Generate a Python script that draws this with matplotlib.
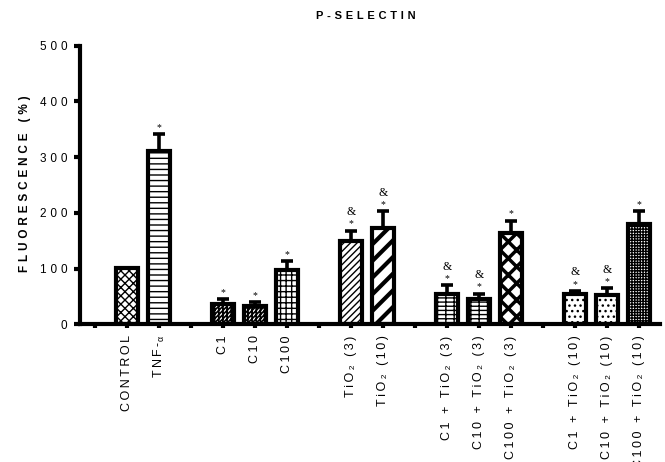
import matplotlib as mpl
import matplotlib.pyplot as plt
import numpy as np

plt.rcParams['font.family'] = ['Liberation Sans', 'DejaVu Sans']
plt.rcParams['mathtext.fontset'] = 'custom'
plt.rcParams['mathtext.rm'] = 'Liberation Sans'
plt.rcParams['mathtext.it'] = 'Liberation Sans'
plt.rcParams['mathtext.default'] = 'regular'

# P-selectin fluorescence per treatment (% of control)
categories = ["CONTROL", "TNF-α", "C1", "C10", "C100",
              "TiO₂ (3)", "TiO₂ (10)",
              "C1 + TiO₂ (3)", "C10 + TiO₂ (3)", "C100 + TiO₂ (3)",
              "C1 + TiO₂ (10)", "C10 + TiO₂ (10)", "C100 + TiO₂ (10)"]
values = [101, 311, 36, 33, 97, 150, 172, 55, 46, 164, 55, 52, 180]
errors = [0, 30, 9, 7, 16, 18, 31, 15, 9, 22, 5, 13, 23]
star_marks = [False, True, True, True, True, True, True, True, True, True, True, True, True]
amp_marks = [False, False, False, False, False, True, True, True, True, False, True, True, False]
group_sizes = [2, 3, 2, 3, 3]
y_ticks = [0, 100, 200, 300, 400, 500]

THIN = '\u2009'
THIRD = '\u2004'


def spaced(s, sep=THIN):
    return sep.join(s)


# bar slots: one empty slot before every group
positions = []
slot = 0
for n in group_sizes:
    slot += 1
    for _ in range(n):
        positions.append(slot)
        slot += 1
n_slots = slot
positions = np.array(positions)

hatches = ['xxxx', '---', '////////||||', '////////||||', '+++', '/////', '//',
           '----||', '----||', 'xx', '...', '...', '++++++']
hatch_lws = [1.0, 1.0, 1.2, 1.2, 1.0, 1.0, 3.0, 1.0, 1.0, 2.5, 1.0, 1.0, 1.0]

fig = plt.figure(figsize=(6.65, 4.62), dpi=100)
ax = fig.add_axes([80 / 665, 1 - 324.3 / 462, 580 / 665, (324.3 - 45.7) / 462])

for x, v, h, hl in zip(positions, values, hatches, hatch_lws):
    with mpl.rc_context({'hatch.linewidth': hl}):
        bars = ax.bar(x, v, width=0.69, facecolor='white', edgecolor='black',
                      linewidth=3, hatch=h, zorder=2)
    for p in bars:
        if hasattr(p, 'set_hatch_linewidth'):
            p.set_hatch_linewidth(hl)

err = np.array(errors, dtype=float)
mask = err > 0
ax.errorbar(positions[mask], np.array(values)[mask],
            yerr=[np.zeros(mask.sum()), err[mask]], fmt='none',
            ecolor='black', elinewidth=2.6, capsize=4, capthick=2.6, zorder=1)

for x, v, e, s, a in zip(positions, values, errors, star_marks, amp_marks):
    top = v + e
    if s:
        ax.annotate('*', (x, top), xytext=(0, 1.5), textcoords='offset points',
                    ha='center', va='bottom', fontsize=7,
                    family=['Liberation Serif', 'DejaVu Serif'])
    if a:
        ax.annotate('&', (x, top), xytext=(0, 9), textcoords='offset points',
                    ha='center', va='bottom', fontsize=8.5,
                    family=['Liberation Serif', 'DejaVu Serif'])

ax.set_xlim(-0.47, 17.65)
ax.set_ylim(0, 500)

tick_pos = list(range(n_slots))
tick_labels = [''] * n_slots
for x, c in zip(positions, categories):
    if c == "TNF-α":
        tick_labels[x] = spaced("TNF-") + r'$_{\alpha}$'
    else:
        tick_labels[x] = spaced(c)
ax.set_xticks(tick_pos)
ax.set_xticklabels(tick_labels, rotation=90, ha='center', va='top', fontsize=9)
ax.tick_params(axis='x', direction='out', length=3, width=3, pad=5)

ax.set_yticks(y_ticks)
ax.set_yticklabels([spaced(str(t), THIRD) for t in y_ticks], fontsize=8.5)
ax.tick_params(axis='y', direction='out', length=4, width=3, pad=5)

for side in ('top', 'right'):
    ax.spines[side].set_visible(False)
for side in ('left', 'bottom'):
    ax.spines[side].set_linewidth(3)
    ax.spines[side].set_zorder(3)

fig.text(366 / 665, 1 - 16 / 462, spaced("P-SELECTIN", THIRD), ha='center',
         va='center', fontsize=8, fontweight='bold')
fig.text(25 / 665, 1 - 183.5 / 462, spaced("FLUORESCENCE (%)", THIRD), ha='center',
         va='center', rotation=90, fontsize=8.5, fontweight='bold')

fig.savefig('out.png', dpi=100)
